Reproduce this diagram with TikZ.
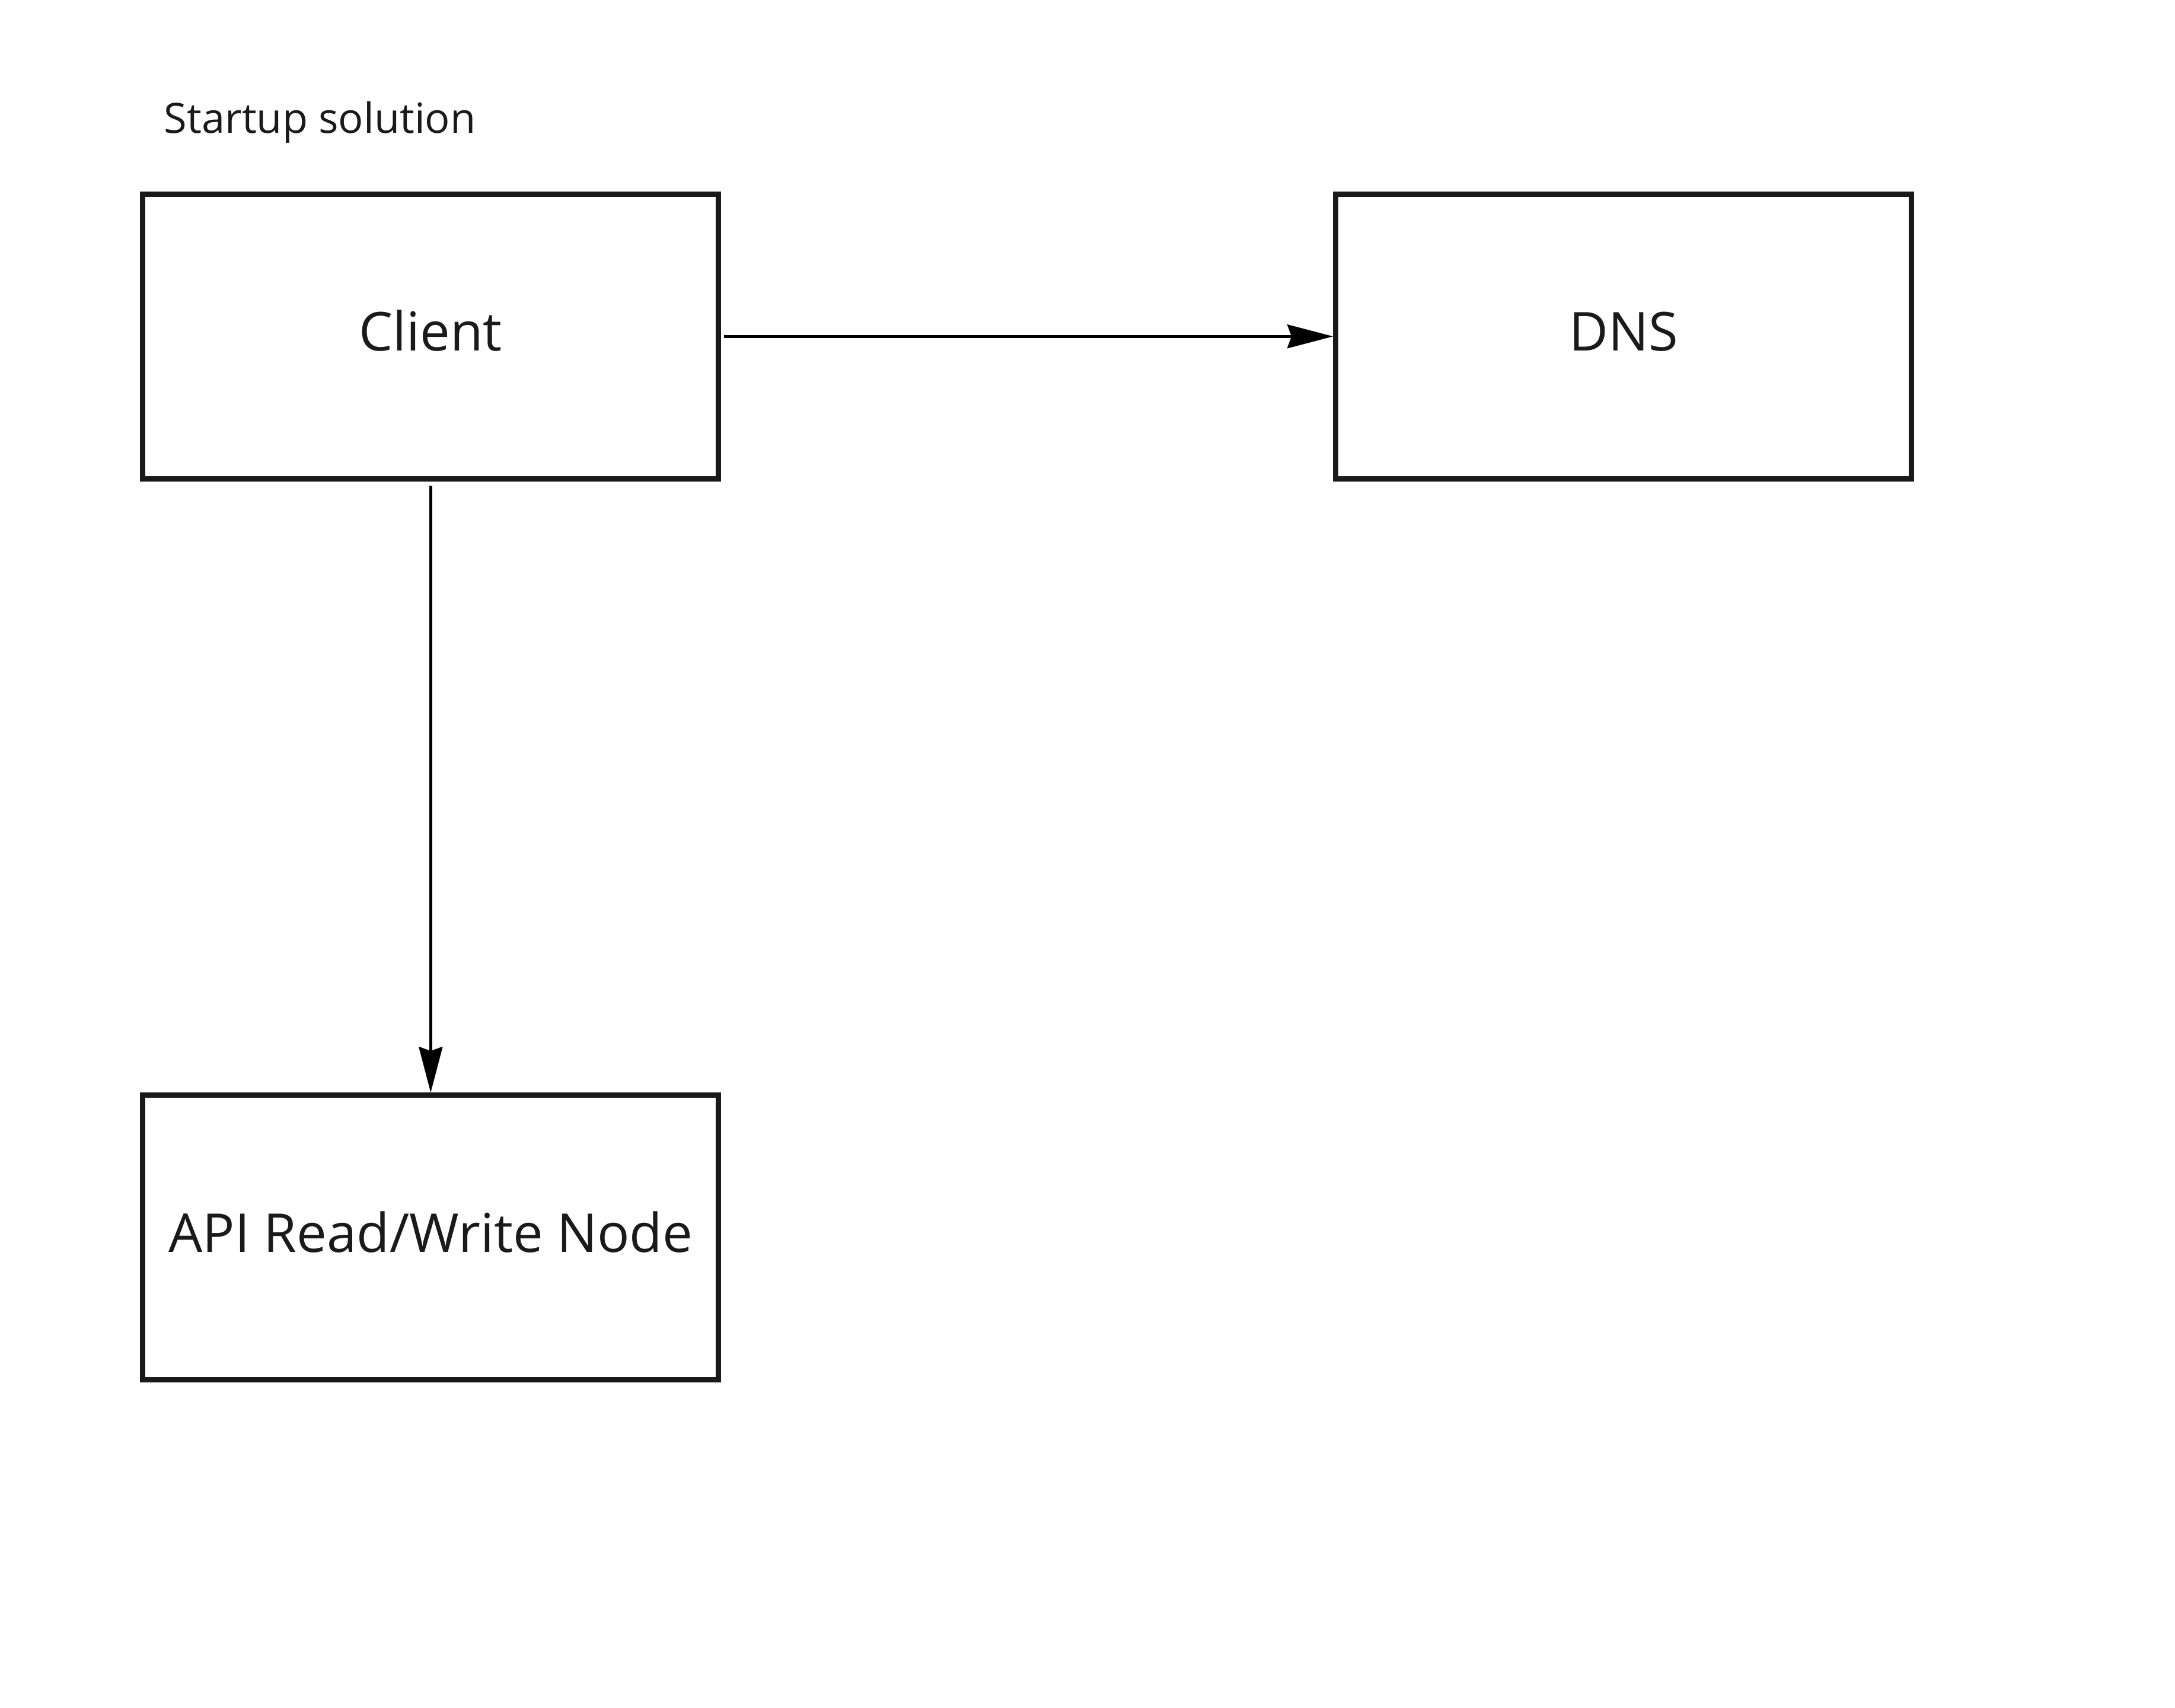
\documentclass[tikz,border=0pt]{standalone}
\usepackage{fontspec}
\setmainfont{Open Sans}
\usetikzlibrary{arrows.meta}
\definecolor{inkgray}{HTML}{1A1A1A}

\begin{document}
\begin{tikzpicture}[line join=miter,
  box/.style={draw=inkgray,line width=2.2pt,minimum width=8.30cm,minimum height=4.10cm,
    inner sep=0pt,text=inkgray,font=\fontsize{22pt}{26pt}\selectfont,
    text height=16pt,text depth=4pt},
  flow/.style={line width=1.2pt,-{Stealth[length=0.66cm,width=0.34cm,inset=0.06cm]}}]
  \useasboundingbox (0,0) rectangle (31.36,24.62);
  \node[anchor=base west,inner sep=0pt,text=inkgray,font=\fontsize{17.1pt}{20pt}\selectfont]
    (title) at (2.36,22.70) {Startup solution};
  \node[box] (client) at (6.21,19.77) {Client};
  \node[box] (dns) at (23.41,19.77) {DNS};
  \node[box] (api) at (6.21,6.78) {API Read/Write Node};
  \draw[flow,shorten <=0.04cm] (client.east) -- (dns.west);
  \draw[flow,shorten <=0.06cm] (client.south) -- (api.north);
\end{tikzpicture}
\end{document}
